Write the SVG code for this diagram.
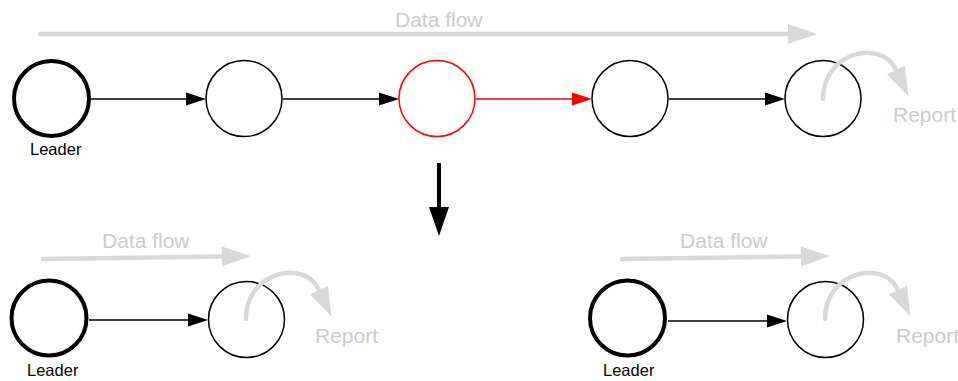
<svg xmlns="http://www.w3.org/2000/svg" width="958" height="381" viewBox="0 0 958 381">
  <style>
    .node { fill: #ffffff; stroke: #000000; stroke-width: 1.5; }
    .leader { fill: #ffffff; stroke: #000000; stroke-width: 4; }
    .fault { fill: #ffffff; stroke: #ff0000; stroke-width: 1.5; }
    .link { stroke: #000000; stroke-width: 1.5; fill: none; }
    .link-red { stroke: #ff0000; stroke-width: 1.5; fill: none; }
    .flow { stroke: #d9d9d9; stroke-width: 4.5; stroke-linecap: round; fill: none; }
    .split { stroke: #000000; stroke-width: 4; fill: none; }
    .label { font-family: "Liberation Sans", Arial, sans-serif; font-size: 16.5px; fill: #000000; }
    .note { font-family: "Liberation Sans", Arial, sans-serif; font-size: 21px; fill: #cccccc; }
  </style>
  <defs>
    <marker id="head" markerUnits="userSpaceOnUse" markerWidth="21" markerHeight="14" refX="0" refY="6.5" orient="auto" overflow="visible">
      <path d="M0,0 L20,6.5 L0,13 Z" fill="#000000"/>
    </marker>
    <marker id="head-red" markerUnits="userSpaceOnUse" markerWidth="21" markerHeight="14" refX="0" refY="6.5" orient="auto" overflow="visible">
      <path d="M0,0 L20,6.5 L0,13 Z" fill="#ff0000"/>
    </marker>
    <marker id="head-flow" markerUnits="userSpaceOnUse" markerWidth="30" markerHeight="20" refX="0" refY="10" orient="auto" overflow="visible">
      <path d="M0,0 L29,10 L0,20 Z" fill="#d9d9d9"/>
    </marker>
    <marker id="head-split" markerUnits="userSpaceOnUse" markerWidth="30" markerHeight="20" refX="0" refY="10" orient="auto" overflow="visible">
      <path d="M0,0 L29,10 L0,20 Z" fill="#000000"/>
    </marker>
  </defs>

  <!-- data flow indicators -->
  <g id="flow-top">
    <line class="flow" x1="40" y1="34" x2="788" y2="34" marker-end="url(#head-flow)"/>
    <text class="note" x="395" y="27">Data flow</text>
  </g>
  <g id="flow-left">
    <line class="flow" x1="43" y1="259" x2="222" y2="256.5" marker-end="url(#head-flow)"/>
    <text class="note" x="102" y="248">Data flow</text>
  </g>
  <g id="flow-right">
    <line class="flow" x1="622" y1="259" x2="801" y2="256.5" marker-end="url(#head-flow)"/>
    <text class="note" x="680" y="248">Data flow</text>
  </g>

  <!-- connectors -->
  <g id="connectors">
    <line class="link" x1="91" y1="99" x2="186" y2="99" marker-end="url(#head)"/>
    <line class="link" x1="283" y1="99" x2="379" y2="99" marker-end="url(#head)"/>
    <line class="link-red" x1="476" y1="99" x2="572" y2="99" marker-end="url(#head-red)"/>
    <line class="link" x1="669" y1="99" x2="765" y2="99" marker-end="url(#head)"/>
    <line class="link" x1="89" y1="320" x2="188" y2="320" marker-end="url(#head)"/>
    <line class="link" x1="668" y1="321" x2="767" y2="321" marker-end="url(#head)"/>
    <line class="split" x1="439" y1="163" x2="439" y2="207" marker-end="url(#head-split)"/>
  </g>

  <!-- top chain -->
  <g id="node-leader-top">
    <circle class="leader" cx="51.5" cy="98.5" r="37.5"/>
    <text class="label" x="30" y="155">Leader</text>
  </g>
  <g id="node-2">
    <circle class="node" cx="244" cy="98.5" r="38"/>
  </g>
  <g id="node-3">
    <circle class="fault" cx="437" cy="98.5" r="38"/>
  </g>
  <g id="node-4">
    <circle class="node" cx="630" cy="98.5" r="38"/>
  </g>
  <g id="node-5">
    <circle class="node" cx="823" cy="98.5" r="38"/>
    <path class="flow" d="M823,99 C823,52 881,38 896,70" marker-end="url(#head-flow)"/>
    <text class="note" x="893" y="122">Report</text>
  </g>

  <!-- left chain after split -->
  <g id="node-leader-left">
    <circle class="leader" cx="49" cy="318" r="37.5"/>
    <text class="label" x="27" y="376">Leader</text>
  </g>
  <g id="node-tail-left">
    <circle class="node" cx="246.5" cy="319.5" r="38"/>
    <path class="flow" d="M246,319 C246,272 304,258 319,290" marker-end="url(#head-flow)"/>
    <text class="note" x="315" y="343">Report</text>
  </g>

  <!-- right chain after split -->
  <g id="node-leader-right">
    <circle class="leader" cx="627.5" cy="318" r="37.5"/>
    <text class="label" x="603" y="376">Leader</text>
  </g>
  <g id="node-tail-right">
    <circle class="node" cx="825.5" cy="319.5" r="38"/>
    <path class="flow" d="M825,319 C825,272 883,258 898,290" marker-end="url(#head-flow)"/>
    <text class="note" x="896" y="343">Report</text>
  </g>
</svg>
